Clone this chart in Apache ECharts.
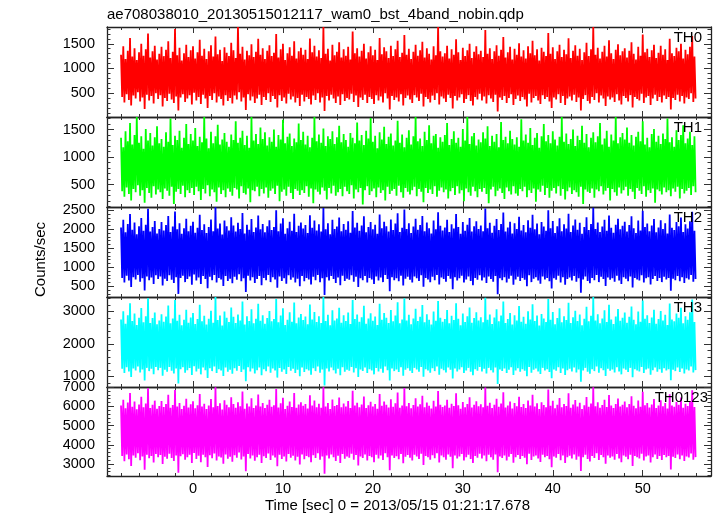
<!DOCTYPE html>
<html>
<head>
<meta charset="utf-8">
<script src="https://cdn.jsdelivr.net/npm/echarts@6/dist/echarts.min.js"></script>
<style>
html,body{margin:0;padding:0;background:#fff;}
#chart{width:717px;height:516px;}
</style>
</head>
<body>
<div id="chart"></div>
<script>
const TITLE = 'ae708038010_20130515012117_wam0_bst_4band_nobin.qdp';
const X_NAME = 'Time [sec] 0 = 2013/05/15 01:21:17.678';
const Y_NAME = 'Counts/sec';
const PANEL_NAMES = ['TH0', 'TH1', 'TH2', 'TH3', 'TH0123'];
const T_START = -8;
const T_STEP = 0.125;

// Local highs / lows of each light curve (alternating samples)
const TH0_HI = [
1280,1450,1190,1360,1620,1240,1410,1170,1330,1500,1260,1390,1710,1220,1350,1460,
1180,1300,1440,1250,1380,1550,1210,1340,1800,1270,1420,1160,1310,1480,1230,1370,
1450,1200,1330,1580,1260,1400,1190,1350,1470,1240,1650,1290,1380,1150,1430,1320,
1250,1520,1370,1210,1840,1300,1440,1180,1360,1270,1490,1230,1340,1600,1280,1410,
1190,1360,1470,1250,1320,1700,1220,1390,1500,1170,1310,1430,1260,1550,1200,1350,
1420,1280,1380,1190,1610,1330,1460,1240,1370,1210,1840,1300,1400,1160,1480,1270,
1340,1530,1220,1390,1260,1440,1180,1750,1310,1410,1240,1360,1500,1200,1330,1450,
1270,1380,1170,1620,1290,1430,1350,1210,1460,1250,1390,1560,1230,1320,1680,1280,
1400,1190,1340,1480,1260,1370,1540,1220,1410,1300,1180,1450,1270,1840,1350,1240,
1310,1460,1200,1390,1280,1590,1330,1170,1420,1250,1370,1500,1210,1340,1450,1290,
1360,1230,1780,1300,1410,1190,1350,1470,1260,1380,1640,1220,1330,1440,1180,1400,
1280,1510,1240,1370,1200,1450,1310,1560,1270,1390,1160,1420,1340,1250,1720,1300,
1430,1190,1350,1480,1230,1380,1290,1610,1210,1360,1470,1260,1400,1170,1330,1520,
1250,1390,1840,1280,1420,1200,1340,1460,1240,1570,1310,1190,1380,1490,1270,1350,
1410,1220,1360,1530,1300,1180,1440,1260,1690,1330,1400,1230,1370,1480,1210,1320,
1460,1280,1390,1170,1600,1310,1250,1420,1350,1500,1200,1380,1290,1440,1660,1240
];
const TH0_LO = [
420,310,480,360,250,450,390,520,330,410,180,470,350,440,290,500,
380,460,230,400,340,490,370,300,430,150,410,480,320,390,460,270,
510,350,420,280,470,390,200,440,360,500,310,430,380,250,460,340,
400,290,450,370,520,330,410,160,480,350,430,300,390,470,260,420,
360,500,320,440,380,210,460,340,410,290,490,370,430,310,400,240,
470,330,420,380,270,450,360,500,310,410,140,440,350,470,390,300,
430,260,480,340,400,370,490,320,450,220,410,360,470,300,420,380,
280,460,350,430,310,500,390,170,440,360,410,330,480,250,400,450,
370,300,460,410,340,490,230,420,380,310,450,360,500,270,430,390,
320,470,400,190,440,350,410,480,300,380,460,340,250,420,370,490,
350,430,290,460,390,320,470,130,410,360,440,300,400,480,260,380,
450,340,420,370,230,490,310,400,440,350,280,460,380,420,330,200,
410,370,480,300,440,260,390,430,350,470,320,410,150,380,460,340,
290,420,360,500,310,450,390,240,430,370,410,320,480,350,270,440,
400,330,460,210,420,380,350,490,300,410,440,260,390,470,340,420,
310,450,380,420,170,400,360,470,330,440,290,410,380,500,320,390
];
const TH1_HI = [
1350,1180,1470,1290,1620,1230,1400,1730,1260,1380,1150,1510,1300,1440,1210,1360,
1560,1250,1330,1190,1450,1280,1700,1220,1390,1310,1480,1170,1350,1600,1240,1420,
1300,1530,1200,1370,1270,1730,1340,1160,1460,1250,1380,1590,1230,1320,1440,1280,
1190,1410,1310,1650,1260,1350,1480,1220,1390,1170,1730,1300,1420,1240,1540,1330,
1450,1210,1360,1280,1500,1190,1400,1320,1680,1250,1370,1430,1200,1340,1270,1610,
1310,1460,1230,1390,1180,1350,1730,1290,1410,1260,1520,1200,1380,1330,1470,1240,
1360,1570,1270,1420,1310,1190,1440,1350,1250,1630,1300,1400,1220,1480,1340,1710,
1280,1390,1160,1450,1320,1550,1240,1370,1430,1210,1300,1660,1260,1410,1180,1350,
1490,1230,1380,1730,1290,1340,1200,1460,1310,1580,1250,1390,1420,1170,1360,1280,
1400,1620,1220,1330,1470,1260,1350,1190,1510,1300,1730,1240,1380,1440,1210,1320,
1270,1450,1340,1560,1200,1390,1280,1420,1180,1640,1310,1370,1250,1480,1330,1230,
1360,1190,1690,1300,1410,1260,1530,1220,1350,1440,1170,1380,1600,1290,1400,1250,
1470,1320,1210,1370,1730,1280,1430,1240,1330,1500,1200,1390,1310,1570,1260,1420,
1180,1350,1450,1270,1380,1620,1230,1340,1480,1190,1410,1300,1730,1250,1360,1440,
1320,1540,1260,1400,1210,1370,1460,1290,1650,1230,1350,1180,1420,1510,1280,1390,
1240,1430,1330,1700,1270,1360,1190,1490,1310,1400,1580,1250,1340,1460,1220,1380
];
const TH1_LO = [
380,280,450,330,210,420,360,490,300,400,170,440,350,260,470,320,
410,360,240,430,390,300,460,150,370,420,330,480,270,400,350,440,
310,460,380,220,420,340,490,290,410,360,190,450,330,400,270,430,
370,300,440,410,250,470,350,320,430,180,400,380,460,290,420,340,
450,260,390,430,330,480,200,370,410,300,460,350,240,420,390,310,
400,350,470,280,430,160,410,370,320,450,390,230,440,340,480,300,
360,420,290,460,380,330,490,250,410,360,440,140,400,470,310,380,
430,270,450,350,400,210,460,330,390,420,300,480,360,260,440,370,
320,400,460,290,420,370,180,440,350,410,330,470,280,390,450,360,
410,250,380,440,310,470,340,400,200,430,360,300,460,380,270,420,
370,440,330,160,410,460,290,390,430,350,240,450,380,320,470,340,
300,420,380,460,270,400,350,430,190,410,370,480,310,440,260,390,
440,340,470,300,420,230,380,450,330,400,360,280,460,150,410,370,
350,430,260,410,380,470,320,390,440,210,420,360,300,450,340,400,
460,300,420,370,240,440,390,330,470,280,400,350,430,170,410,380,
320,450,360,400,290,430,370,460,250,420,340,390,440,310,470,360
];
const TH2_HI = [
2050,2250,1920,2140,2400,1990,2180,1870,2080,2300,1960,2120,2540,1940,2060,2220,
1890,2010,2190,1970,2110,2350,1930,2070,2470,2000,2160,1880,2030,2280,1950,2090,
2200,1910,2040,2380,1980,2130,1900,2060,2260,1950,2580,2020,2150,1860,2230,2080,
1970,2320,2100,1940,2170,2010,2430,1890,2120,1990,2270,1930,2050,2360,2000,2140,
1920,2080,2240,1980,2060,2500,1950,2150,2290,1880,2030,2200,1960,2410,1930,2090,
2180,2020,2110,1900,2370,2040,2230,1970,2130,1940,2560,2000,2160,1870,2250,2010,
2070,2310,1950,2140,1990,2210,1910,2480,2050,2170,1960,2100,2340,1920,2060,2190,
2000,2120,1880,2390,2030,2200,2080,1940,2260,1980,2150,2420,1930,2040,2520,2010,
2160,1900,2070,2280,1990,2110,2350,1950,2180,2030,1890,2230,2000,2450,2090,1970,
2050,2250,1930,2130,2020,2400,2060,1880,2190,1960,2120,2300,1940,2080,2210,2010,
2100,1950,2550,2030,2170,1910,2090,2270,1980,2140,2440,1940,2050,2200,1890,2160,
2010,2330,1970,2110,1920,2240,2040,2380,2000,2150,1870,2190,2070,1960,2500,2030,
2220,1900,2080,2290,1950,2130,2020,2410,1930,2100,2260,1990,2170,1880,2060,2320,
1980,2140,2570,2010,2180,1930,2070,2250,1960,2360,2040,1910,2120,2280,2000,2090,
2200,1940,2110,2340,2030,1900,2230,1970,2490,2060,2150,1950,2100,2270,1920,2050,
2240,2010,2160,1890,2390,2040,1980,2190,2080,2310,1930,2130,2020,2210,2460,1960
];
const TH2_LO = [
720,600,780,650,480,740,680,800,620,710,390,760,660,730,560,790,
690,760,520,700,640,790,670,590,740,300,720,780,610,690,760,540,
810,650,730,560,770,690,450,750,660,800,600,720,680,510,770,640,
700,580,750,670,820,630,710,350,780,650,740,590,690,770,530,720,
660,800,610,740,680,460,760,640,710,570,790,670,730,600,700,500,
770,630,720,680,550,750,660,800,610,710,270,740,650,770,690,590,
730,530,780,640,700,670,790,620,750,480,710,660,770,600,720,680,
560,760,650,730,610,800,690,370,740,660,710,630,780,520,700,750,
670,600,760,710,640,790,490,720,680,610,750,660,800,550,730,690,
620,770,700,420,740,650,710,780,600,680,760,640,530,720,670,790,
650,730,590,760,690,620,770,290,710,660,740,600,700,780,540,680,
750,640,720,670,500,790,610,700,740,650,570,760,680,720,630,440,
710,670,780,600,740,540,690,730,650,770,620,710,330,680,760,640,
580,720,660,800,610,750,690,510,730,670,710,620,780,650,560,740,
700,630,760,470,720,680,650,790,600,710,740,550,690,770,640,720,
610,750,680,720,380,700,660,770,630,740,590,710,680,800,620,690
];
const TH3_HI = [
2750,3000,2620,2880,3250,2700,2930,2580,2800,3100,2660,2850,3400,2640,2790,2960,
2600,2720,2910,2680,2840,3180,2630,2780,3350,2710,2890,2570,2740,3050,2650,2810,
2950,2610,2760,3200,2690,2860,2590,2770,3020,2650,3440,2730,2870,2560,2990,2800,
2670,3120,2830,2640,2900,2720,3300,2590,2850,2700,3060,2630,2770,3230,2710,2880,
2620,2790,3010,2690,2760,3380,2660,2870,3090,2580,2740,2970,2680,3270,2630,2810,
2920,2730,2840,2600,3210,2750,2980,2670,2850,2640,3440,2700,2890,2570,3030,2720,
2780,3110,2650,2880,2700,2960,2610,3350,2760,2900,2680,2820,3170,2620,2780,2940,
2710,2840,2580,3230,2740,2950,2800,2640,3040,2690,2870,3280,2630,2750,3400,2720,
2890,2600,2780,3080,2700,2830,3190,2660,2910,2740,2590,2990,2710,3320,2800,2680,
2760,3040,2630,2860,2730,3250,2770,2570,2930,2670,2850,3120,2650,2790,2970,2720,
2820,2660,3420,2740,2900,2610,2810,3060,2690,2870,3300,2640,2760,2950,2590,2880,
2720,3160,2680,2830,2620,3000,2750,3220,2700,2870,2560,2920,2780,2670,3380,2740,
2980,2600,2790,3090,2660,2850,2730,3260,2640,2820,3020,2700,2900,2570,2770,3140,
2690,2860,3440,2720,2910,2630,2780,3030,2670,3200,2750,2610,2840,3070,2710,2800,
2960,2650,2830,3150,2740,2600,2990,2680,3330,2770,2880,2640,2810,3050,2620,2760,
3010,2720,2890,2580,3240,2750,2690,2930,2800,3110,2630,2850,2740,2970,3360,2670
];
const TH3_LO = [
1230,1100,1280,1150,980,1240,1180,1300,1120,1210,870,1260,1160,1230,1060,1290,
1190,1260,1020,1200,1140,1290,1170,1090,1240,780,1220,1280,1110,1190,1260,1040,
1310,1150,1230,1060,1270,1190,950,1250,1160,1300,1100,1220,1180,1010,1270,1140,
1200,1080,1250,1170,1320,1130,1210,850,1280,1150,1240,1090,1190,1270,1030,1220,
1160,1300,1110,1240,1180,960,1260,1140,1210,1070,1290,1170,1230,1100,1200,1000,
1270,1130,1220,1180,1050,1250,1160,1300,1110,1210,720,1240,1150,1270,1190,1090,
1230,1030,1280,1140,1200,1170,1290,1120,1250,980,1210,1160,1270,1100,1220,1180,
1060,1260,1150,1230,1110,1300,1190,870,1240,1160,1210,1130,1280,1020,1200,1250,
1170,1100,1260,1210,1140,1290,990,1220,1180,1110,1250,1160,1300,1050,1230,1190,
1120,1270,1200,930,1240,1150,1210,1280,1100,1180,1260,1140,1030,1220,1170,1290,
1150,1230,1090,1260,1190,1120,1270,760,1210,1160,1240,1100,1200,1280,1040,1180,
1250,1140,1220,1170,1000,1290,1110,1200,1240,1150,1070,1260,1180,1220,1130,940,
1210,1170,1280,1100,1240,1040,1190,1230,1150,1270,1120,1210,830,1180,1260,1140,
1080,1220,1160,1300,1110,1250,1190,1010,1230,1170,1210,1120,1280,1150,1060,1240,
1200,1130,1260,970,1220,1180,1150,1290,1100,1210,1240,1050,1190,1270,1140,1220,
1110,1250,1180,1220,880,1200,1160,1270,1130,1240,1090,1210,1180,1300,1120,1190
];
const TH0123_HI = [
6050,6350,5900,6200,6700,5980,6250,5850,6100,6500,5950,6150,6950,5920,6080,6300,
5880,6020,6280,5970,6120,6600,5930,6070,6850,6000,6180,5860,6030,6400,5940,6110,
6270,5900,6060,6650,5990,6140,5870,6050,6380,5950,7000,6020,6160,5840,6320,6090,
5960,6480,6130,5930,6210,6010,6780,5880,6150,5990,6420,5920,6050,6620,6000,6170,
5910,6080,6340,5980,6060,6900,5940,6160,6450,5870,6030,6260,5970,6700,5930,6100,
6220,6030,6120,5890,6580,6050,6300,5960,6140,5930,7000,6000,6180,5860,6360,6020,
6070,6460,5950,6150,5990,6280,5910,6820,6050,6190,5960,6100,6520,5920,6060,6240,
6000,6130,5880,6640,6030,6260,6090,5940,6370,5980,6160,6720,5930,6040,6960,6010,
6180,5900,6070,6430,5990,6110,6560,5950,6200,6030,5890,6290,6000,6800,6090,5970,
6050,6350,5930,6140,6020,6680,6060,5880,6230,5960,6120,6470,5940,6080,6270,6010,
6110,5950,6980,6030,6190,5910,6090,6400,5980,6150,6740,5940,6050,6250,5890,6170,
6010,6500,5970,6120,5920,6310,6040,6600,6000,6160,5860,6220,6070,5960,6880,6030,
6290,5900,6080,6440,5950,6130,6020,6690,5930,6100,6330,5990,6190,5870,6060,6490,
5980,6150,7000,6010,6210,5930,6070,6340,5970,6590,6040,5910,6130,6410,6000,6090,
6260,5950,6120,6530,6030,5900,6300,5980,6760,6060,6170,5940,6100,6380,5920,6050,
6320,6010,6180,5890,6630,6040,5980,6230,6080,6460,5930,6140,6020,6270,6840,5970
];
const TH0123_LO = [
3420,3150,3500,3250,2900,3440,3330,3560,3200,3400,2700,3480,3300,3420,3080,3530,
3350,3470,3000,3380,3280,3540,3320,3160,3450,2550,3410,3510,3230,3350,3480,3050,
3580,3270,3430,3100,3490,3360,2850,3460,3300,3550,3180,3400,3340,3020,3500,3280,
3380,3120,3460,3330,3600,3240,3400,2620,3520,3290,3450,3170,3350,3490,3060,3410,
3310,3550,3210,3450,3340,2880,3480,3270,3400,3130,3530,3330,3430,3190,3380,2980,
3500,3250,3420,3350,3090,3460,3310,3560,3220,3400,2500,3450,3290,3500,3360,3160,
3430,3050,3520,3280,3390,3330,3540,3230,3470,2920,3400,3310,3500,3190,3420,3350,
3100,3480,3290,3440,3210,3560,3360,2680,3450,3310,3410,3250,3520,3040,3380,3470,
3330,3180,3480,3400,3270,3540,2950,3420,3350,3220,3460,3300,3560,3080,3440,3360,
3230,3500,3380,2780,3450,3290,3400,3520,3190,3350,3480,3270,3060,3420,3330,3540,
3290,3440,3150,3480,3360,3230,3500,2580,3400,3310,3450,3190,3380,3520,3070,3350,
3470,3270,3420,3330,2990,3540,3210,3390,3450,3290,3110,3480,3350,3420,3250,2830,
3400,3330,3520,3200,3450,3060,3360,3430,3290,3500,3230,3400,2640,3350,3480,3270,
3140,3420,3310,3560,3210,3470,3360,3010,3440,3330,3400,3230,3520,3290,3100,3450,
3380,3250,3480,2900,3420,3350,3290,3540,3190,3400,3450,3080,3360,3500,3270,3420,
3210,3470,3350,3420,2720,3380,3310,3500,3250,3450,3160,3400,3340,3550,3230,3360
];

const HI = [TH0_HI, TH1_HI, TH2_HI, TH3_HI, TH0123_HI];
const LO = [TH0_LO, TH1_LO, TH2_LO, TH3_LO, TH0123_LO];
const COLORS = ['#ff0000', '#00ff00', '#0000ff', '#00ffff', '#ff00ff'];
const Y_MIN = [16, 93, 218, 671, 2378];
const Y_MAX = [1841, 1729, 2587, 3440, 7010];
const Y_TICK_LABELS = [
  [500, 1000, 1500],
  [500, 1000, 1500],
  [500, 1000, 1500, 2000, 2500],
  [1000, 2000, 3000],
  [3000, 4000, 5000, 6000, 7000]
];
const Y_MINOR_STEP = [100, 100, 100, 200, 200];
const X_MIN = -9.56;
const X_MAX = 57.59;
const X_TICK_LABELS = [0, 10, 20, 30, 40, 50];
const X_MINOR_STEP = 2;

const FONT = 'Liberation Sans, Arial, Helvetica, sans-serif';
const PANEL_TOP = [27, 117, 207, 297, 387];
const PANEL_H = [90, 90, 90, 90, 89];
const LABEL_RIGHT = [15, 15, 15, 15, 9];

function stepValues(min, max, step) {
  const out = [];
  let v = Math.ceil(min / step) * step;
  for (; v <= max + 1e-9; v += step) out.push(Math.round(v * 1000) / 1000);
  return out;
}
const plain = v => String(v);

// interleave the high/low samples in time order
function buildData(hi, lo) {
  const out = [];
  for (let j = 0; j < hi.length; j++) {
    out.push([T_START + (2 * j) * T_STEP, hi[j]]);
    out.push([T_START + (2 * j + 1) * T_STEP, lo[j]]);
  }
  return out;
}

const grids = [], xAxes = [], yAxes = [], series = [], titles = [];
const lineColor = '#222';
const tickColor = '#333';

titles.push({
  text: TITLE, left: 107, top: 7, padding: 0,
  textStyle: { fontFamily: FONT, fontSize: 15, fontWeight: 'normal', color: '#000' }
});

const xMinor = stepValues(X_MIN, X_MAX, X_MINOR_STEP);

for (let i = 0; i < 5; i++) {
  grids.push({ left: 107, right: 6, top: PANEL_TOP[i], height: PANEL_H[i], containLabel: false });
  const base = { type: 'value', gridIndex: i, min: X_MIN, max: X_MAX, splitLine: { show: false } };
  const isBottom = i === 4;
  xAxes.push(Object.assign({}, base, {
    position: 'bottom',
    axisLine: { show: true, onZero: false, lineStyle: { color: lineColor, width: 1.3 } },
    axisTick: { show: true, inside: true, length: 6, customValues: X_TICK_LABELS, lineStyle: { color: tickColor, width: 1 } },
    axisLabel: { show: isBottom, margin: 5, customValues: X_TICK_LABELS, formatter: plain, fontFamily: FONT, fontSize: 14.5, color: '#000' }
  }));
  xAxes.push(Object.assign({}, base, {
    position: 'bottom',
    axisLine: { show: false, onZero: false },
    axisTick: { show: true, inside: true, length: 3, customValues: xMinor, lineStyle: { color: tickColor, width: 1 } },
    axisLabel: { show: false }
  }));
  xAxes.push(Object.assign({}, base, {
    position: 'top',
    axisLine: { show: true, onZero: false, lineStyle: { color: lineColor, width: 1.3 } },
    axisTick: { show: true, inside: true, length: 6, customValues: X_TICK_LABELS, lineStyle: { color: tickColor, width: 1 } },
    axisLabel: { show: false }
  }));
  xAxes.push(Object.assign({}, base, {
    position: 'top',
    axisLine: { show: false, onZero: false },
    axisTick: { show: true, inside: true, length: 3, customValues: xMinor, lineStyle: { color: tickColor, width: 1 } },
    axisLabel: { show: false }
  }));

  const yBase = { type: 'value', gridIndex: i, min: Y_MIN[i], max: Y_MAX[i], splitLine: { show: false } };
  const yMinor = stepValues(Y_MIN[i], Y_MAX[i], Y_MINOR_STEP[i]);
  yAxes.push(Object.assign({}, yBase, {
    position: 'left',
    axisLine: { show: true, onZero: false, lineStyle: { color: lineColor, width: 1.3 } },
    axisTick: { show: true, inside: true, length: 7, customValues: Y_TICK_LABELS[i], lineStyle: { color: tickColor, width: 1 } },
    axisLabel: { show: true, margin: 12, customValues: Y_TICK_LABELS[i], formatter: plain, fontFamily: FONT, fontSize: 14.5, color: '#000' }
  }));
  yAxes.push(Object.assign({}, yBase, {
    position: 'left',
    axisLine: { show: false, onZero: false },
    axisTick: { show: true, inside: true, length: 3.5, customValues: yMinor, lineStyle: { color: tickColor, width: 1 } },
    axisLabel: { show: false }
  }));
  yAxes.push(Object.assign({}, yBase, {
    position: 'right',
    axisLine: { show: true, onZero: false, lineStyle: { color: lineColor, width: 1.3 } },
    axisTick: { show: true, inside: true, length: 7, customValues: Y_TICK_LABELS[i], lineStyle: { color: tickColor, width: 1 } },
    axisLabel: { show: false }
  }));
  yAxes.push(Object.assign({}, yBase, {
    position: 'right',
    axisLine: { show: false, onZero: false },
    axisTick: { show: true, inside: true, length: 3.5, customValues: yMinor, lineStyle: { color: tickColor, width: 1 } },
    axisLabel: { show: false }
  }));

  series.push({
    name: PANEL_NAMES[i],
    type: 'line',
    xAxisIndex: i * 4,
    yAxisIndex: i * 4,
    data: buildData(HI[i], LO[i]),
    showSymbol: false,
    symbol: 'none',
    sampling: null,
    clip: true,
    lineStyle: { color: COLORS[i], width: 1.8, join: 'bevel' },
    itemStyle: { color: COLORS[i] },
    animation: false,
    z: 1
  });

  titles.push({
    text: PANEL_NAMES[i], right: LABEL_RIGHT[i], top: PANEL_TOP[i] + 3, padding: 0,
    textStyle: { fontFamily: FONT, fontSize: 15, fontWeight: 'normal', color: '#000' }
  });
}

const chart = echarts.init(document.getElementById('chart'), null, { renderer: 'canvas' });
chart.setOption({
  backgroundColor: '#fff',
  animation: false,
  title: titles,
  grid: grids,
  xAxis: xAxes,
  yAxis: yAxes,
  series: series,
  graphic: [
    { type: 'text', x: 397.5, y: 505.7, style: { text: X_NAME, fontFamily: FONT, fontSize: 15, fill: '#000', textAlign: 'center', textVerticalAlign: 'middle' } },
    { type: 'text', x: 41, y: 259.5, rotation: Math.PI / 2, style: { text: Y_NAME, fontFamily: FONT, fontSize: 15, fill: '#000', textAlign: 'center', textVerticalAlign: 'middle' } }
  ]
});
</script>
</body>
</html>
